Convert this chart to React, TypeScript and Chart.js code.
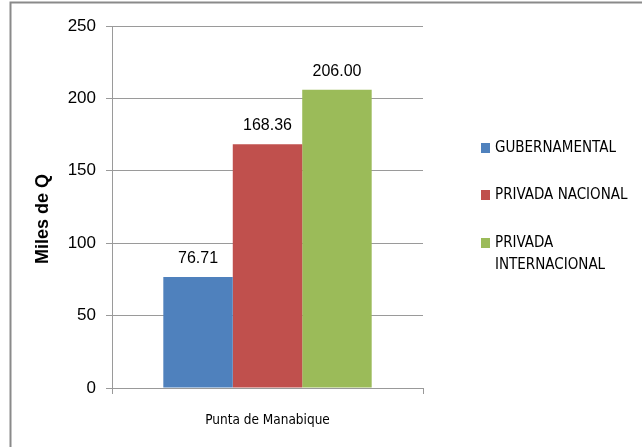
import React, { useEffect, useRef } from "react";
import { Chart, registerables } from "chart.js";

Chart.register(...registerables);

const categories = ["Punta de Manabique"];
const seriesNames = ["GUBERNAMENTAL", "PRIVADA NACIONAL", "PRIVADA INTERNACIONAL"];
const gubernamental = [76.71];
const privadaNacional = [168.36];
const privadaInternacional = [206.0];
const yMin = 0;
const yMax = 250;
const yStep = 50;
const yTitle = "Miles de Q";
const colors = ["#4F81BD", "#C0504D", "#9BBB59"];

const FONT = "'DejaVu Sans Condensed', 'Liberation Sans', sans-serif";
const FONT_REG = "'Liberation Sans', Arial, sans-serif";

function wrap(ctx: CanvasRenderingContext2D, text: string, maxW: number): string[] {
  const words = text.split(" ");
  const lines: string[] = [];
  let cur = "";
  for (const w of words) {
    const test = cur ? cur + " " + w : w;
    if (ctx.measureText(test).width > maxW && cur) {
      lines.push(cur);
      cur = w;
    } else cur = test;
  }
  if (cur) lines.push(cur);
  return lines;
}

const decorPlugin = {
  id: "decor",
  afterDraw(chart: any) {
    const ctx: CanvasRenderingContext2D = chart.ctx;
    ctx.save();
    // outer border (top and left visible)
    ctx.strokeStyle = "#8a8a8a";
    ctx.lineWidth = 2;
    ctx.beginPath();
    ctx.moveTo(642, 2.5);
    ctx.lineTo(10.5, 2.5);
    ctx.lineTo(10.5, 447);
    ctx.stroke();

    // data labels
    ctx.fillStyle = "#000";
    ctx.font = `16px ${FONT_REG}`;
    ctx.textAlign = "center";
    ctx.textBaseline = "alphabetic";
    chart.data.datasets.forEach((ds: any, i: number) => {
      const meta = chart.getDatasetMeta(i);
      meta.data.forEach((el: any, j: number) => {
        ctx.fillText(Number(ds.data[j]).toFixed(2), el.x, el.y - 14);
      });
    });

    // y title
    ctx.save();
    ctx.font = `bold 18px ${FONT_REG}`;
    ctx.translate(43, 219);
    ctx.rotate(-Math.PI / 2);
    ctx.textAlign = "center";
    ctx.textBaseline = "middle";
    ctx.fillText(yTitle, 0, 0);
    ctx.restore();

    // legend
    ctx.font = `15px ${FONT}`;
    ctx.textAlign = "left";
    ctx.textBaseline = "middle";
    const rowY = [148, 195, 243];
    chart.data.datasets.forEach((ds: any, i: number) => {
      const y = rowY[i];
      ctx.fillStyle = ds.backgroundColor;
      ctx.fillRect(481, y - 5, 9, 10);
      ctx.fillStyle = "#000";
      const lines = wrap(ctx, ds.label, 142);
      lines.forEach((ln, k) => ctx.fillText(ln, 495, y + k * 22));
    });
    ctx.restore();
  },
};

export default function App() {
  const ref = useRef<HTMLCanvasElement>(null);
  useEffect(() => {
    if (!ref.current) return;
    const series = [gubernamental, privadaNacional, privadaInternacional];
    const chart = new Chart(ref.current, {
      type: "bar",
      data: {
        labels: categories,
        datasets: series.map((d, i) => ({
          label: seriesNames[i],
          data: d,
          backgroundColor: colors[i],
          borderWidth: 0,
          categoryPercentage: 0.67,
          barPercentage: 1,
        })),
      },
      options: {
        animation: false,
        responsive: false,
        devicePixelRatio: 1,
        layout: { padding: { left: 0, top: 26, right: 219, bottom: 0 } },
        plugins: { legend: { display: false }, tooltip: { enabled: false } },
        scales: {
          x: {
            grid: { offset: true, drawOnChartArea: false, tickLength: 6, color: "#999" },
            border: { color: "#999" },
            ticks: { color: "#000", font: { size: 13.5, family: FONT }, padding: 18 },
            afterFit: (s: any) => {
              s.height = 59;
            },
          },
          y: {
            min: yMin,
            max: yMax,
            ticks: { stepSize: yStep, color: "#000", font: { size: 17, family: FONT_REG }, padding: 10 },
            grid: { color: "#9a9a9a", tickLength: 6 },
            border: { color: "#9a9a9a" },
            afterFit: (s: any) => {
              s.width = 112;
            },
          },
        },
      },
      plugins: [decorPlugin],
    });
    return () => chart.destroy();
  }, []);
  return (
    <div style={{ position: "absolute", left: 0, top: 0, width: 642, height: 447, background: "#fff" }}>
      <canvas ref={ref} width={642} height={447} style={{ display: "block" }} />
    </div>
  );
}
